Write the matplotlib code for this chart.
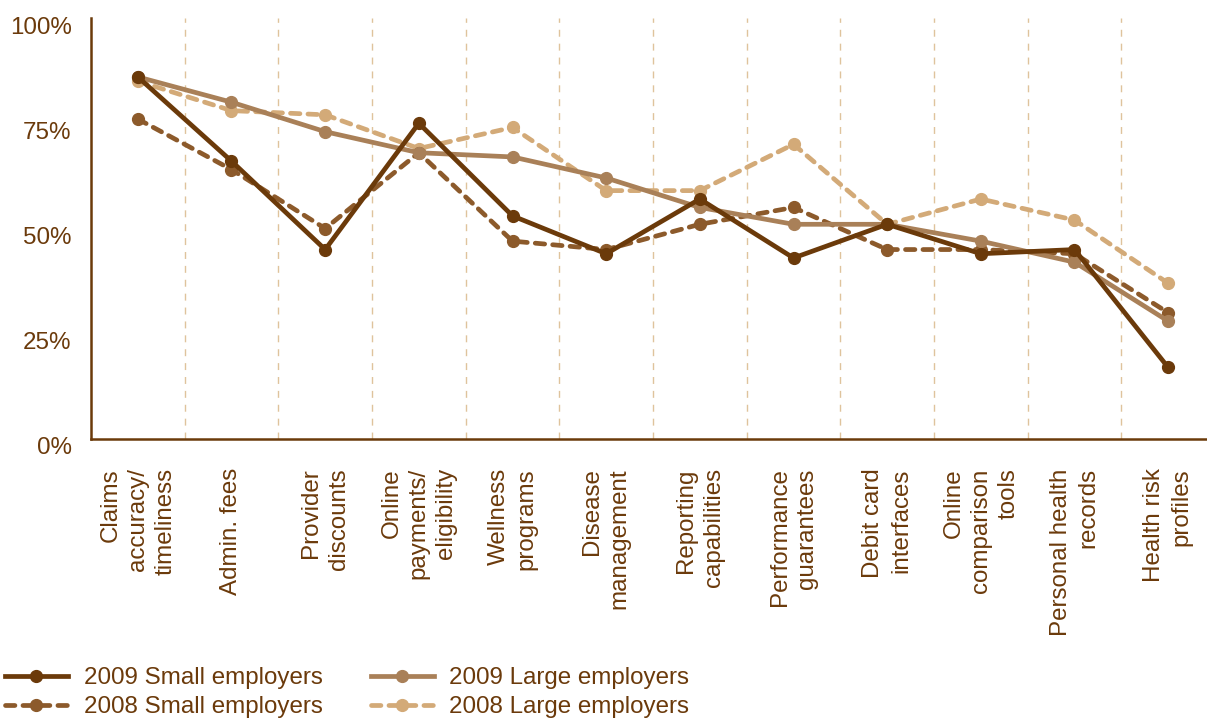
import matplotlib
matplotlib.use("Agg")
import matplotlib.pyplot as plt
import matplotlib.transforms as mtransforms
from matplotlib.lines import Line2D

# data (percent)
categories = ["Claims\naccuracy/\ntimeliness", "Admin. fees", "Provider\ndiscounts",
              "Online\npayments/\neligibility", "Wellness\nprograms", "Disease\nmanagement",
              "Reporting\ncapabilities", "Performance\nguarantees", "Debit card\ninterfaces",
              "Online\ncomparison\ntools", "Personal health\nrecords", "Health risk\nprofiles"]
small_2009 = [86, 66, 45, 75, 53, 44, 57, 43, 51, 44, 45, 17]
small_2008 = [76, 64, 50, 68, 47, 45, 51, 55, 45, 45, 44, 30]
large_2009 = [86, 80, 73, 68, 67, 62, 55, 51, 51, 47, 42, 28]
large_2008 = [85, 78, 77, 69, 74, 59, 59, 70, 51, 57, 52, 37]
y_ticks = [0, 25, 50, 75, 100]
y_labels = ["0%", "25%", "50%", "75%", "100%"]

# colours
c_text = "#6b3a0b"
c_s09 = "#6b3a0a"
c_s08 = "#8c5a2b"
c_l09 = "#a98058"
c_l08 = "#d3aa78"
c_grid = "#dfc39c"

plt.rcParams["font.family"] = ["Liberation Sans", "DejaVu Sans"]
fs = 17.4

fig = plt.figure(figsize=(12.07, 7.21), dpi=100)
ax = fig.add_axes([91 / 1207, 1 - 439 / 721, (1215 - 91) / 1207, (439 - 18) / 721])

x = list(range(len(categories)))
lw = 3.4
ms = 8.5
dash = (0, (2.0, 1.7))

# vertical dividers between categories
for i in range(len(categories) - 1):
    ax.axvline(i + 0.5, color=c_grid, lw=1.0, ls=(0, (5, 5)), zorder=1)

ax.plot(x, large_2008, color=c_l08, lw=lw, ls=dash, marker="o", ms=ms,
        dash_capstyle="round", zorder=2)
ax.plot(x, small_2008, color=c_s08, lw=lw, ls=dash, marker="o", ms=ms,
        dash_capstyle="round", zorder=3)
ax.plot(x, large_2009, color=c_l09, lw=lw, marker="o", ms=ms, zorder=4)
ax.plot(x, small_2009, color=c_s09, lw=lw, marker="o", ms=ms, zorder=5)

ax.set_xlim(-0.5, 11.5)
ax.set_ylim(0, 100)
ax.set_xticks(x)
ax.set_xticklabels(categories, rotation=90, ha="center", va="top",
                   multialignment="right", linespacing=1.32, fontsize=fs, color=c_text)
ax.set_yticks(y_ticks)
ax.set_yticklabels(y_labels, fontsize=fs, color=c_text)
ax.tick_params(axis="x", length=0, pad=21)
ax.tick_params(axis="y", length=0, pad=14)

# y labels sit slightly below their tick
off = mtransforms.ScaledTranslation(0, -7 / 100, fig.dpi_scale_trans)
for lab in ax.get_yticklabels():
    lab.set_transform(lab.get_transform() + off)

for s in ["top", "right"]:
    ax.spines[s].set_visible(False)
for s in ["left", "bottom"]:
    ax.spines[s].set_color(c_s09)
    ax.spines[s].set_linewidth(1.8)

handles = [
    Line2D([], [], color=c_s09, lw=lw, marker="o", ms=ms),
    Line2D([], [], color=c_s08, lw=lw, ls=dash, marker="o", ms=ms, dash_capstyle="round"),
    Line2D([], [], color=c_l09, lw=lw, marker="o", ms=ms),
    Line2D([], [], color=c_l08, lw=lw, ls=dash, marker="o", ms=ms, dash_capstyle="round"),
]
labels = ["2009 Small employers", "2008 Small employers",
          "2009 Large employers", "2008 Large employers"]
leg = fig.legend(handles, labels, ncol=2, loc="upper left",
                 bbox_to_anchor=(5 / 1207, 1 - 667 / 721), frameon=False,
                 fontsize=fs, handlelength=2.6, handletextpad=0.65,
                 columnspacing=2.0, labelspacing=0.3, borderpad=0,
                 borderaxespad=0, numpoints=1)
for t in leg.get_texts():
    t.set_color(c_text)

fig.savefig("out.png", dpi=100)
